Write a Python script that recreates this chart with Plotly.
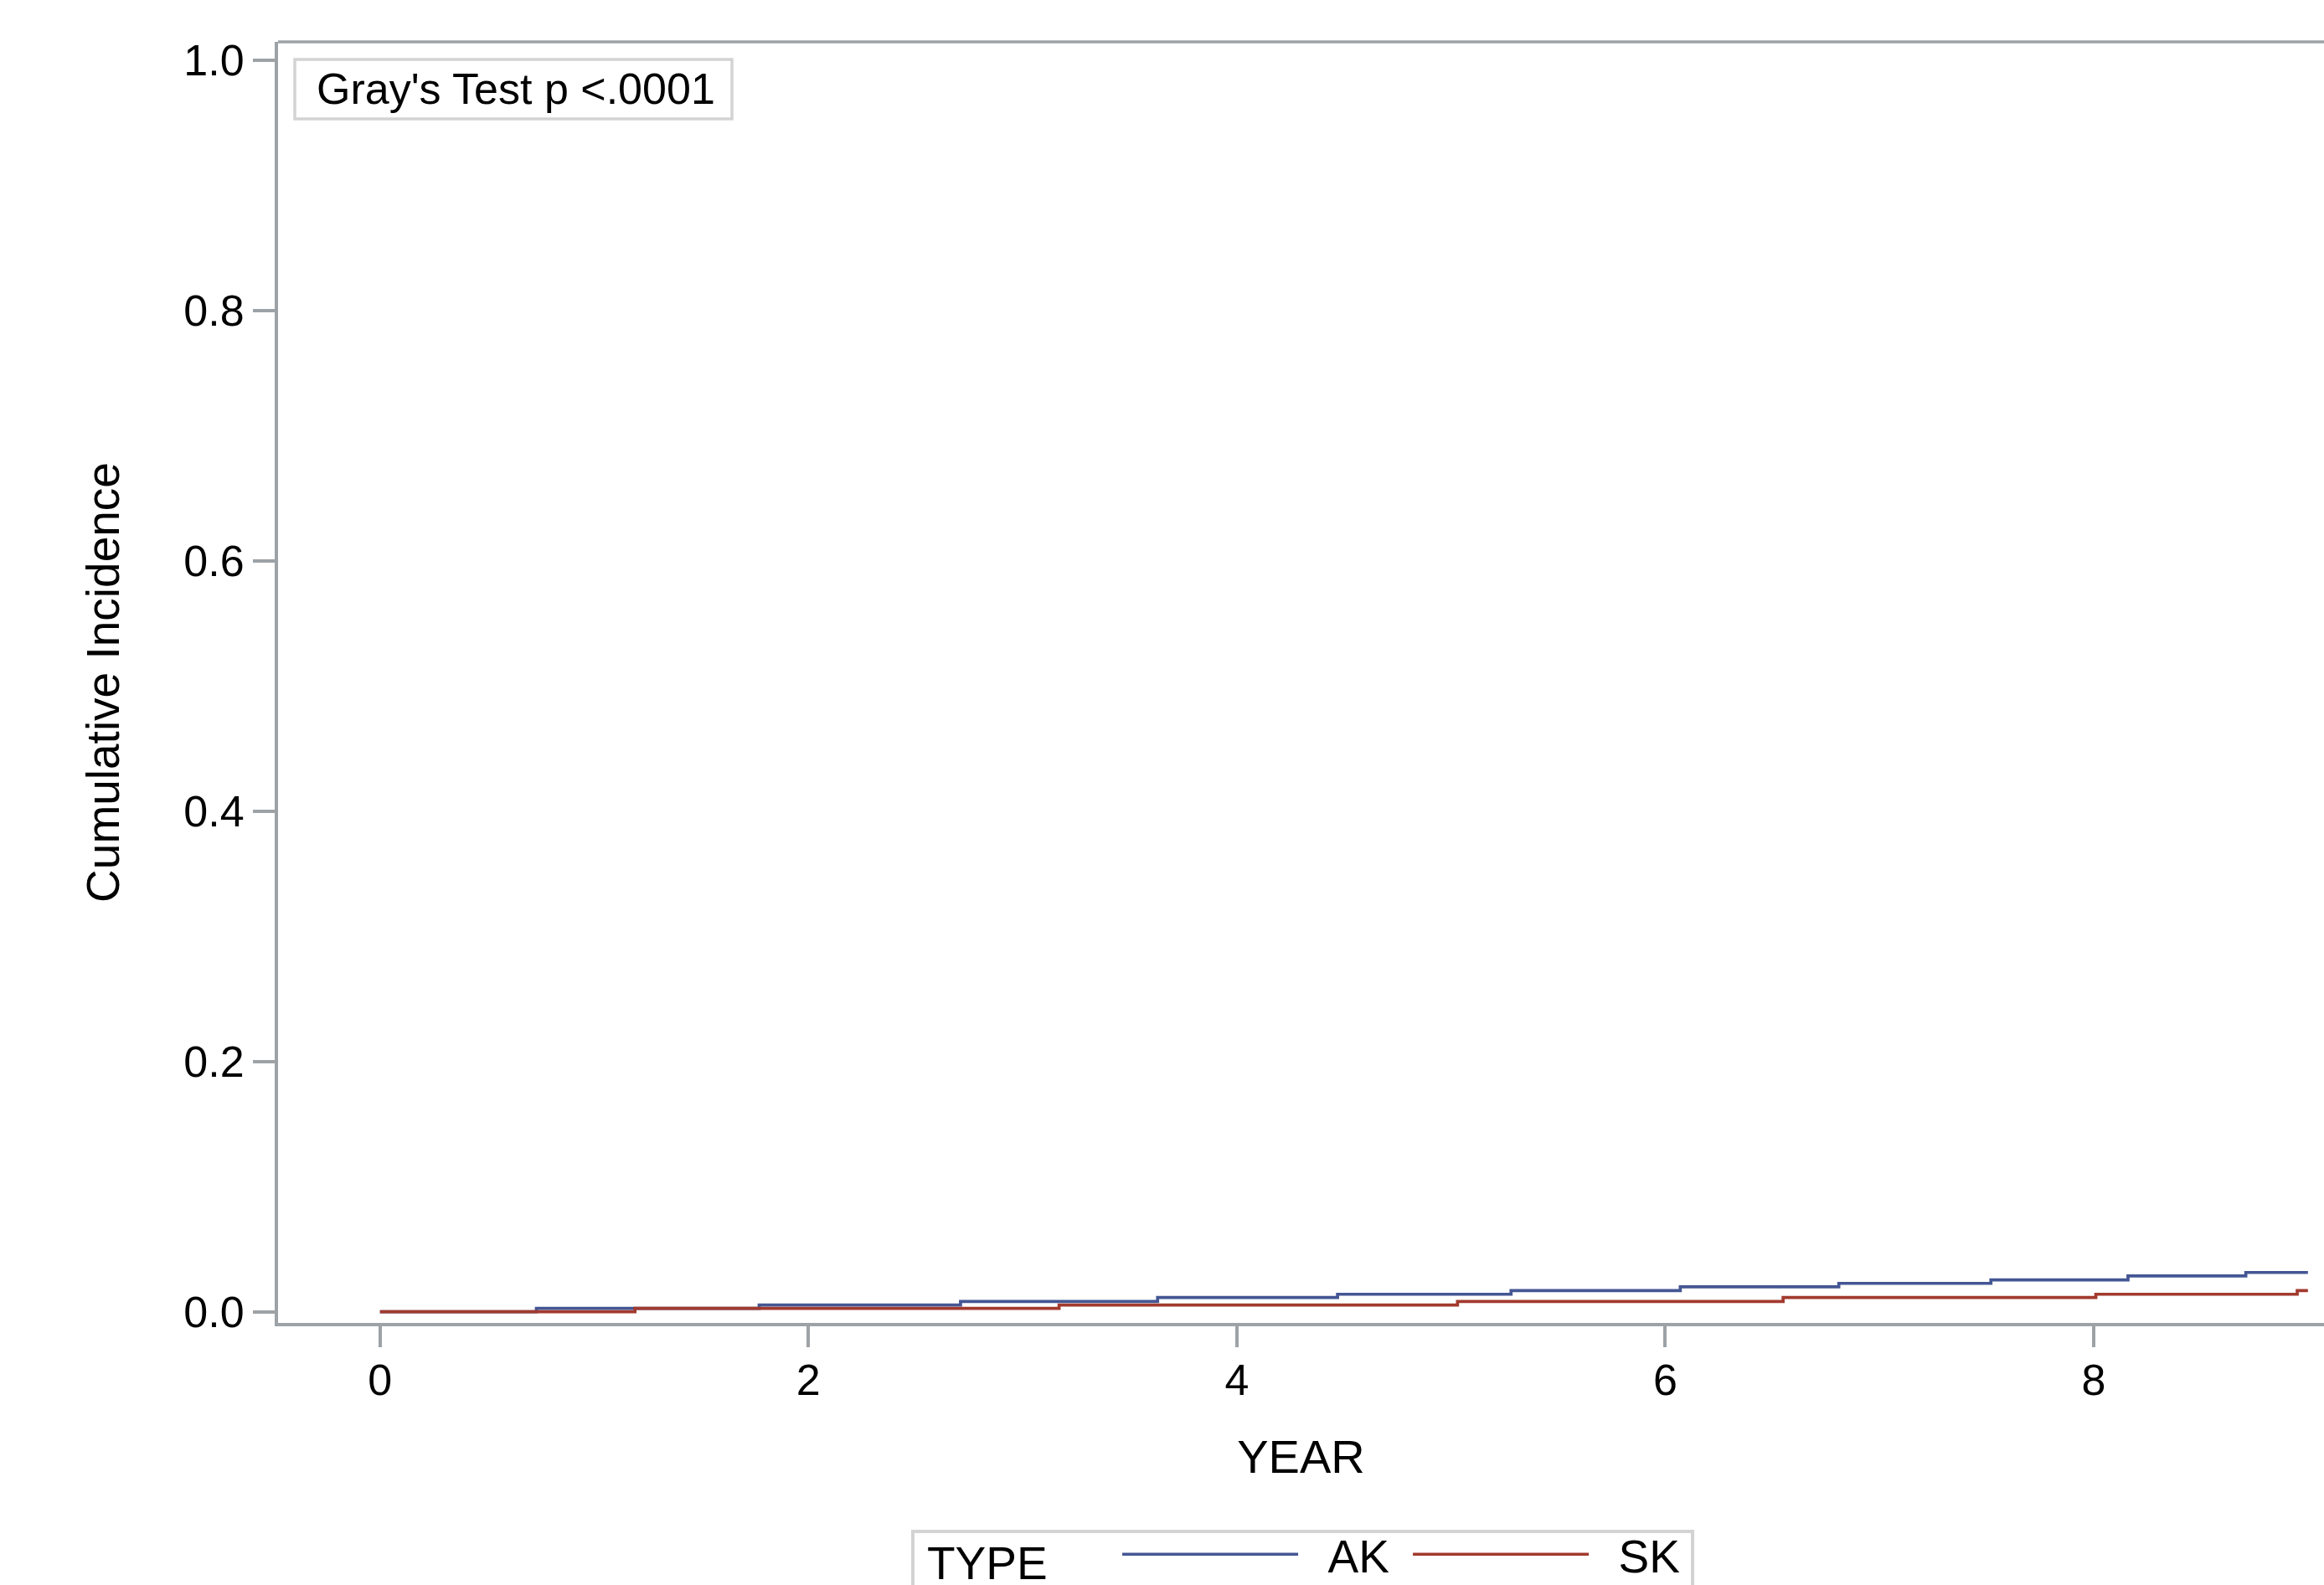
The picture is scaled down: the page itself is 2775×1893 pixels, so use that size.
import plotly.graph_objects as go

# ---- data ----
ak_years = [0, 0.73, 1.77, 2.71, 3.63, 4.47, 5.28, 6.07, 6.81, 7.52, 8.16, 8.71, 9.0]
ak_cif = [0, 0.0027, 0.0054, 0.0083, 0.0114, 0.0140, 0.0170, 0.0200, 0.0227, 0.0254, 0.0286, 0.0314, 0.0314]

sk_years = [0, 1.19, 3.17, 5.03, 6.55, 8.01, 8.95, 9.0]
sk_cif = [0, 0.0027, 0.0054, 0.0083, 0.0114, 0.0140, 0.0170, 0.0170]

x_ticks = [0, 2, 4, 6, 8]
y_ticks = [0.0, 0.2, 0.4, 0.6, 0.8, 1.0]
y_tick_text = ["0.0", "0.2", "0.4", "0.6", "0.8", "1.0"]

series_names = ["AK", "SK"]
series_colors = ["#445694", "#A23A2E"]

FONT = "Liberation Sans, Arial, sans-serif"
AXIS_GRAY = "#9DA2A6"
BOX_GRAY = "#D3D3D3"

NB = "\u00a0"  # non-breaking space, used only to pad the legend layout

fig = go.Figure()
for name, xs, ys, col in zip(series_names, [ak_years, sk_years], [ak_cif, sk_cif], series_colors):
    fig.add_trace(go.Scatter(
        x=xs, y=ys, mode="lines", name=NB * 2 + name,
        line=dict(color=col, width=3.7, shape="hv"),
    ))

W_PLOT = 2443.0
H_PLOT = 1530.0


def px_x(p):
    return (p - 332) / W_PLOT


def px_y(p):
    return (1580 - p) / H_PLOT


fig.update_layout(
    width=2775, height=1893,
    margin=dict(l=332, r=0, t=50, b=313, autoexpand=False),
    paper_bgcolor="white", plot_bgcolor="white",
    font=dict(family=FONT, size=52, color="black"),
    showlegend=True,
    legend=dict(
        orientation="h", x=px_x(1105), xanchor="left", y=px_y(1814), yanchor="top",
        borderwidth=0, bgcolor="rgba(0,0,0,0)",
        font=dict(family=FONT, size=55, color="black"),
        title=dict(text="TYPE" + NB * 5, side="left",
                   font=dict(family=FONT, size=55, color="black")),
        itemwidth=210,
        entrywidth=122, entrywidthmode="pixels",
        traceorder="normal",
    ),
    xaxis=dict(
        range=[-0.476, 9.075], tickvals=x_ticks, ticktext=[str(v) for v in x_ticks],
        showline=True, linecolor=AXIS_GRAY, linewidth=4, mirror=False,
        ticks="outside", ticklen=25, tickwidth=4, tickcolor=AXIS_GRAY,
        ticklabelstandoff=-5,
        showgrid=False, zeroline=False,
        tickfont=dict(family=FONT, size=52, color="black"),
        title=dict(text="YEAR", font=dict(family=FONT, size=56, color="black"), standoff=44),
    ),
    yaxis=dict(
        range=[-0.0089, 1.0145], tickvals=y_ticks, ticktext=y_tick_text,
        showline=True, linecolor=AXIS_GRAY, linewidth=4, mirror=False,
        ticks="outside", ticklen=26, tickwidth=4, tickcolor=AXIS_GRAY,
        showgrid=False, zeroline=False,
        tickfont=dict(family=FONT, size=52, color="black"),
        title=dict(text="Cumulative Incidence", font=dict(family=FONT, size=55, color="black"), standoff=60),
    ),
)

# top border of plot frame (right side is cut off in the reference)
fig.add_shape(type="line", xref="paper", yref="paper", x0=0, x1=1, y0=1, y1=1,
              line=dict(color=AXIS_GRAY, width=3.5))

# legend frame (bottom edge falls below the page, as in the reference)
fig.add_shape(type="rect", xref="paper", yref="paper",
              x0=px_x(1090), x1=px_x(2021), y0=px_y(1905), y1=px_y(1829),
              line=dict(color=BOX_GRAY, width=4), fillcolor="rgba(0,0,0,0)", layer="below")

# Gray's test inset box
fig.add_shape(type="rect", xref="paper", yref="paper",
              x0=px_x(352), x1=px_x(874), y0=px_y(142), y1=px_y(71),
              line=dict(color=BOX_GRAY, width=3.5), fillcolor="white")
fig.add_annotation(text="Gray's Test p <.0001", xref="paper", yref="paper",
                   x=px_x(376), xanchor="left", y=px_y(106.5), yanchor="middle",
                   showarrow=False, font=dict(family=FONT, size=52, color="black"))

fig.write_html("out.html")
